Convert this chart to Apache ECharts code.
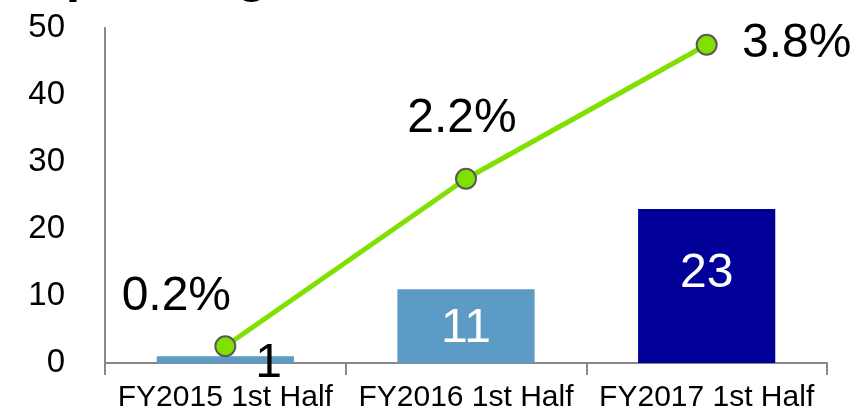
<!DOCTYPE html>
<html>
<head>
<meta charset="utf-8">
<script src="https://cdn.jsdelivr.net/npm/echarts@6/dist/echarts.min.js"></script>
<style>
  html, body { margin: 0; padding: 0; background: #fff; }
  #chart_con { width: 858px; height: 413px; }
</style>
</head>
<body>
<div id="chart_con"></div>
<script>
// half-year values: bars = count, line = share (%)
var categories = ['FY2015 1st Half', 'FY2016 1st Half', 'FY2017 1st Half'];
var counts = [1, 11, 23];
var shares = [0.2, 2.2, 3.8];
var yTicks = [0, 10, 20, 30, 40, 50];

var barColors = ['#5B9BC5', '#5B9BC5', '#000099'];
var countLabels = [
    { position: 'insideRight', color: '#000', offset: [-7, 4] },
    { position: 'inside', color: '#fff', offset: [0, 3] },
    { position: 'inside', color: '#fff', offset: [0, -12] }
];
var shareOffsets = [[-49, -49], [-4, -60], [90, -1]];

var chart = echarts.init(document.getElementById('chart_con'));

var option = {
    animation: false,
    title: {
        text: 'Spending',
        left: 26,
        top: -54,
        textStyle: { fontFamily: 'Arial, Liberation Sans', fontWeight: 'bold', fontSize: 52, color: '#000' }
    },
    grid: { left: 105, right: 31, top: 28, bottom: 47 },
    xAxis: {
        type: 'category',
        data: categories,
        axisLine: { lineStyle: { color: '#888', width: 2 } },
        axisTick: { show: true, length: 12, lineStyle: { color: '#888', width: 2 } },
        axisLabel: { interval: 0, margin: 20, color: '#000', fontSize: 30, fontFamily: 'Arial, Liberation Sans' }
    },
    yAxis: [
        {
            type: 'value',
            min: yTicks[0],
            max: yTicks[yTicks.length - 1],
            interval: 10,
            axisLine: { show: true, lineStyle: { color: '#888', width: 2 } },
            axisTick: { show: false },
            splitLine: { show: false },
            axisLabel: { margin: 40, color: '#000', fontSize: 33, fontFamily: 'Arial, Liberation Sans' }
        },
        {
            type: 'value',
            min: 0,
            max: 4,
            show: false,
            splitLine: { show: false }
        }
    ],
    series: [
        {
            name: 'count',
            type: 'bar',
            barWidth: '57%',
            data: counts.map(function (v, i) {
                return {
                    value: v,
                    itemStyle: { color: barColors[i] },
                    label: Object.assign({ show: true }, countLabels[i])
                };
            }),
            label: { fontSize: 48, fontFamily: 'Arial, Liberation Sans' }
        },
        {
            name: 'share',
            type: 'line',
            yAxisIndex: 1,
            symbol: 'circle',
            symbolSize: 20,
            lineStyle: { color: '#80E000', width: 5 },
            itemStyle: { color: '#80E000', borderColor: '#595959', borderWidth: 2 },
            data: shares.map(function (v, i) {
                return {
                    value: v,
                    label: {
                        show: true,
                        position: 'inside',
                        offset: shareOffsets[i],
                        formatter: v.toFixed(1) + '%',
                        color: '#000',
                        fontSize: 48,
                        fontFamily: 'Arial, Liberation Sans'
                    }
                };
            }),
            z: 5
        }
    ]
};

chart.setOption(option);
</script>
</body>
</html>
